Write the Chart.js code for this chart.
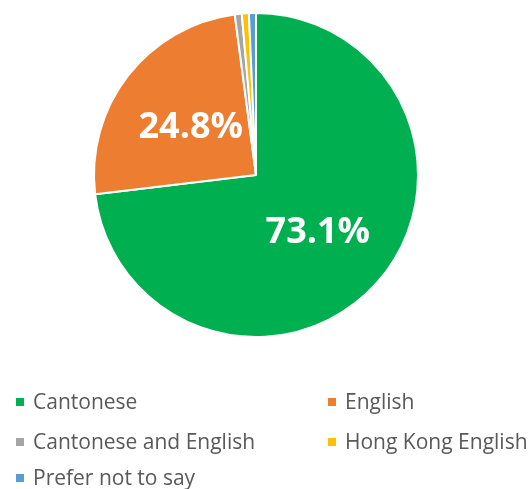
<!DOCTYPE html>
<html>
<head>
  <title>Language preference</title>
  <script src="https://cdn.jsdelivr.net/npm/chart.js"></script>
  <style>
    body {
      margin: 0;
      background-color: #ffffff;
      font-family: 'Open Sans', sans-serif;
    }
    .wrap {
      position: relative;
      width: 532px;
      height: 489px;
    }
    .pie-box {
      position: absolute;
      left: 0;
      top: 0;
      width: 532px;
      height: 350px;
    }
    .legend {
      position: absolute;
      left: 0;
      top: 0;
      width: 532px;
      height: 489px;
    }
    .legend-item {
      position: absolute;
      font-size: 21px;
      color: #595959;
      white-space: nowrap;
      line-height: 24px;
    }
    .legend-item span {
      display: inline-block;
      width: 8px;
      height: 8px;
      margin-right: 9px;
      vertical-align: 3px;
    }
  </style>
</head>
<body>
  <div class="wrap">
    <div class="pie-box"><canvas id="pieChart"></canvas></div>
    <div id="legend" class="legend"></div>
  </div>

  <script>
    // data
    const categories = ['Cantonese', 'English', 'Cantonese and English', 'Hong Kong English', 'Prefer not to say'];
    const shares = [73.1, 24.8, 0.7, 0.7, 0.7];
    const shownLabels = ['73.1%', '24.8%', '', '', ''];
    const colors = ['#00B050', '#ED7D31', '#A5A5A5', '#FFC000', '#5B9BD5'];

    // legend slots (two columns)
    const legendSlots = [
      { x: 16, y: 389 }, { x: 328, y: 389 },
      { x: 16, y: 429 }, { x: 328, y: 429 },
      { x: 16, y: 465 }
    ];

    // white percent text inside the big slices
    const sliceLabels = {
      id: 'sliceLabels',
      afterDatasetsDraw(chart) {
        const ctx = chart.ctx;
        const meta = chart.getDatasetMeta(0);
        ctx.save();
        ctx.fillStyle = '#ffffff';
        ctx.font = 'bold 36px "Open Sans", sans-serif';
        ctx.textAlign = 'center';
        ctx.textBaseline = 'middle';
        meta.data.forEach((arc, i) => {
          if (!shownLabels[i]) return;
          const p = arc.getProps(['x', 'y', 'startAngle', 'endAngle', 'outerRadius'], true);
          const mid = (p.startAngle + p.endAngle) / 2;
          const r = p.outerRadius * 0.51;
          ctx.fillText(shownLabels[i], p.x + Math.cos(mid) * r, p.y + Math.sin(mid) * r + 3);
        });
        ctx.restore();
      }
    };

    new Chart(document.getElementById('pieChart'), {
      type: 'pie',
      data: {
        labels: categories,
        datasets: [{
          data: shares,
          backgroundColor: colors,
          borderColor: '#ffffff',
          borderWidth: 2
        }]
      },
      options: {
        responsive: true,
        maintainAspectRatio: false,
        animation: false,
        rotation: 0,
        layout: { padding: { top: 12, bottom: 12, left: 93, right: 113 } },
        plugins: {
          legend: { display: false },
          tooltip: { enabled: false }
        }
      },
      plugins: [sliceLabels]
    });

    const legendDiv = document.getElementById('legend');
    categories.forEach((name, i) => {
      const item = document.createElement('div');
      item.className = 'legend-item';
      item.style.left = legendSlots[i].x + 'px';
      item.style.top = legendSlots[i].y + 'px';
      item.innerHTML = '<span style="background:' + colors[i] + '"></span>' + name;
      legendDiv.appendChild(item);
    });
  </script>
</body>
</html>
